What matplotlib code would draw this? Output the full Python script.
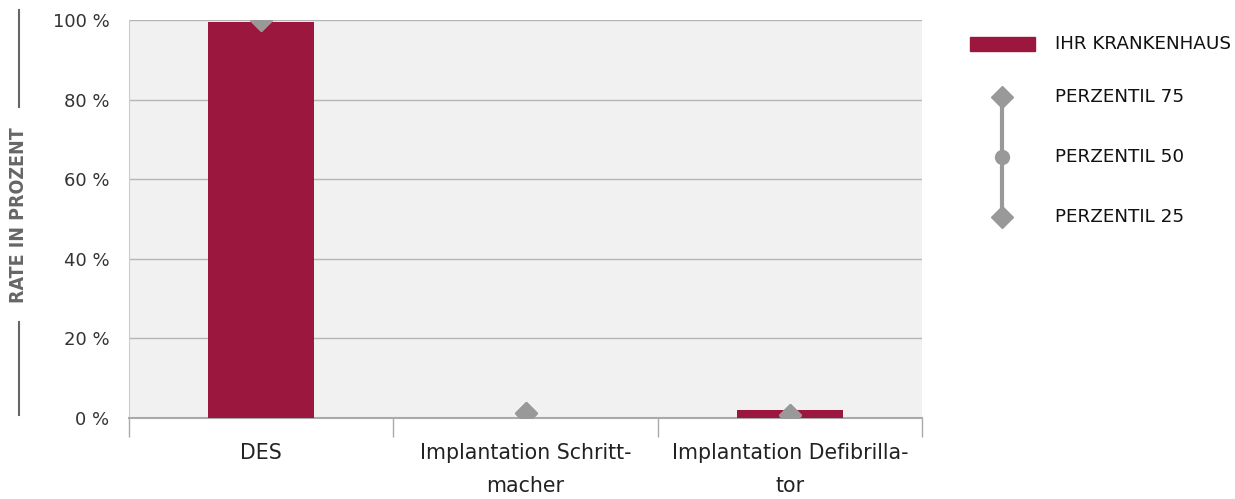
import numpy as np
import matplotlib.pyplot as plt
from matplotlib.lines import Line2D
from matplotlib.patches import Rectangle

plt.rcParams['font.family'] = ['DejaVu Sans']

# Data
categories = ['DES', 'Implantation Schritt-\nmacher', 'Implantation Defibrilla-\ntor']
hospital = [99.5, 0.0, 2.0]
p25 = [100.0, 1.3, 0.8]
p50 = [100.0, 1.3, 0.8]
p75 = [100.0, 1.3, 0.8]
yticks = [0, 20, 40, 60, 80, 100]
legend_labels = ['IHR KRANKENHAUS', 'PERZENTIL 75', 'PERZENTIL 50', 'PERZENTIL 25']

BAR = '#9b173d'
GREY = '#999999'

fig = plt.figure(figsize=(12.35, 4.99), dpi=100)
W, H = 1235, 499
ax = fig.add_axes([129 / W, 1 - 418 / H, (922 - 129) / W, (418 - 20) / H])
ax.set_facecolor('#f1f1f1')

x = np.arange(len(categories))
ax.bar(x, hospital, width=0.4, color=BAR, zorder=3)
for i in x:
    ax.plot([i, i], [p25[i], p75[i]], color=GREY, lw=3, zorder=4)
    ax.plot(i, p50[i], 'o', color=GREY, ms=10, zorder=5)
    ax.plot([i, i], [p25[i], p75[i]], 'D', color=GREY, ms=11, zorder=5)

ax.set_xlim(-0.5, 2.5)
ax.set_ylim(0, 100)
ax.set_yticks(yticks)
ax.set_yticklabels([f'{v} %' for v in yticks], fontsize=13, color='#333333')
ax.tick_params(axis='y', length=0, pad=14)
ax.grid(axis='y', color='#b5b5b5', lw=1, zorder=1)

ax.set_xticks([-0.5, 0.5, 1.5, 2.5])
ax.set_xticklabels([])
ax.tick_params(axis='x', which='major', length=14, color='#aaaaaa', width=1)
ax.set_xticks(x, minor=True)
ax.set_xticklabels(categories, minor=True, fontsize=14.8, color='#222222', linespacing=1.8)
ax.tick_params(axis='x', which='minor', length=0, pad=18)

for s in ['top', 'right']:
    ax.spines[s].set_visible(False)
ax.spines['left'].set_color('#cccccc')
ax.spines['bottom'].set_color('#aaaaaa')
ax.spines['bottom'].set_linewidth(1.5)

# y axis title with side rules
fig.text(19 / W, 1 - 215 / H, 'RATE IN PROZENT', rotation=90, ha='center', va='center',
         fontsize=14, color='#666666', fontstretch='condensed', fontweight='bold')
fig.add_artist(Line2D([19 / W, 19 / W], [1 - 10 / H, 1 - 107 / H], color='#666666', lw=1.5))
fig.add_artist(Line2D([19 / W, 19 / W], [1 - 322 / H, 1 - 415 / H], color='#666666', lw=1.5))

# legend
lg = fig.add_axes([0, 0, 1, 1], zorder=-1)
lg.set_xlim(0, W)
lg.set_ylim(H, 0)
lg.axis('off')
lg.add_patch(Rectangle((970, 37), 65, 14, color=BAR))
lg.plot([1002, 1002], [97, 217], color=GREY, lw=3)
lg.plot([1002, 1002], [97, 217], 'D', color=GREY, ms=11)
lg.plot(1002, 157, 'o', color=GREY, ms=10)
for lab, yy in zip(legend_labels, [44, 97, 157, 217]):
    lg.text(1055, yy, lab, fontsize=13.2, va='center', color='#111111')

fig.savefig('out.png', dpi=100)
